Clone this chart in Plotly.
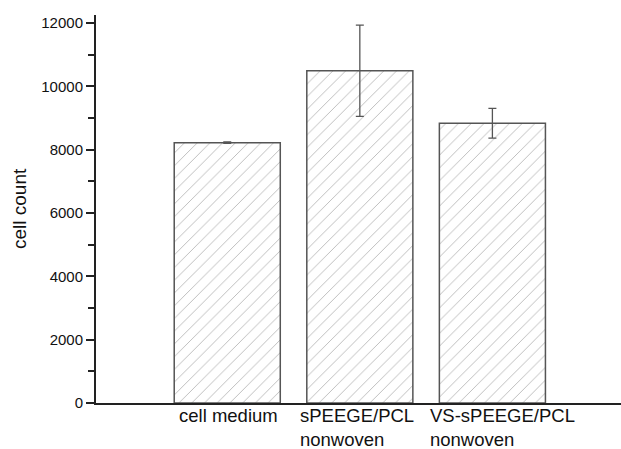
import plotly.graph_objects as go

categories = ["cell medium", "sPEEGE/PCL<br>nonwoven", "VS-sPEEGE/PCL<br>nonwoven"]
cell_count = [8220, 10490, 8830]
cell_count_err = [25, 1440, 470]

y_tick_vals = [0, 2000, 4000, 6000, 8000, 10000, 12000]

x_pos = list(range(len(categories)))

fig = go.Figure()
fig.add_trace(go.Bar(
    x=x_pos,
    y=cell_count,
    width=0.8,
    marker=dict(
        color="white",
        line=dict(color="#555555", width=1.5),
        pattern=dict(shape="/", fgcolor="#707070", bgcolor="white", size=9, solidity=0.1),
    ),
    error_y=dict(type="data", array=cell_count_err, visible=True,
                 color="#555555", thickness=1.3, width=4),
    showlegend=False,
))

font_family = "Liberation Sans, Arial, sans-serif"
label_shifts = [1, -3, 10]
for i, (cat, sh) in enumerate(zip(categories, label_shifts)):
    fig.add_annotation(
        x=i, y=0, xref="x", yref="paper", text=cat, showarrow=False,
        xanchor="center", yanchor="top", align="left", xshift=sh, yshift=0,
        font=dict(family=font_family, size=18.5, color="#111111"),
    )

fig.add_annotation(
    x=-77 / 525, y=0.5, xref="paper", yref="paper", text="cell count",
    textangle=-90, showarrow=False, xanchor="center", yanchor="middle",
    font=dict(family=font_family, size=19, color="#111111"),
)

fig.update_layout(
    width=621, height=449,
    margin=dict(l=96, r=0, t=15, b=46),
    paper_bgcolor="white", plot_bgcolor="white",
    font=dict(family=font_family, color="#111111"),
    bargap=0.2,
)
fig.update_xaxes(
    range=[-0.99, 2.97], showgrid=False, zeroline=False,
    showline=True, linecolor="#222222", linewidth=2,
    showticklabels=False, ticks="",
)
fig.update_yaxes(
    range=[0, 12250], showgrid=False, zeroline=False,
    showline=True, linecolor="#222222", linewidth=2,
    tickvals=y_tick_vals, ticktext=[str(v) for v in y_tick_vals],
    ticks="outside", ticklen=8, tickwidth=1.5, tickcolor="#222222",
    tickfont=dict(family=font_family, size=15, color="#111111"),
    minor=dict(dtick=1000, ticks="outside", ticklen=6, tickwidth=1.5, tickcolor="#222222"),
)

fig.write_html(
    "out.html",
    config={"displayModeBar": False},
    post_script="document.body.style.margin='0';document.body.style.overflow='hidden';",
)
